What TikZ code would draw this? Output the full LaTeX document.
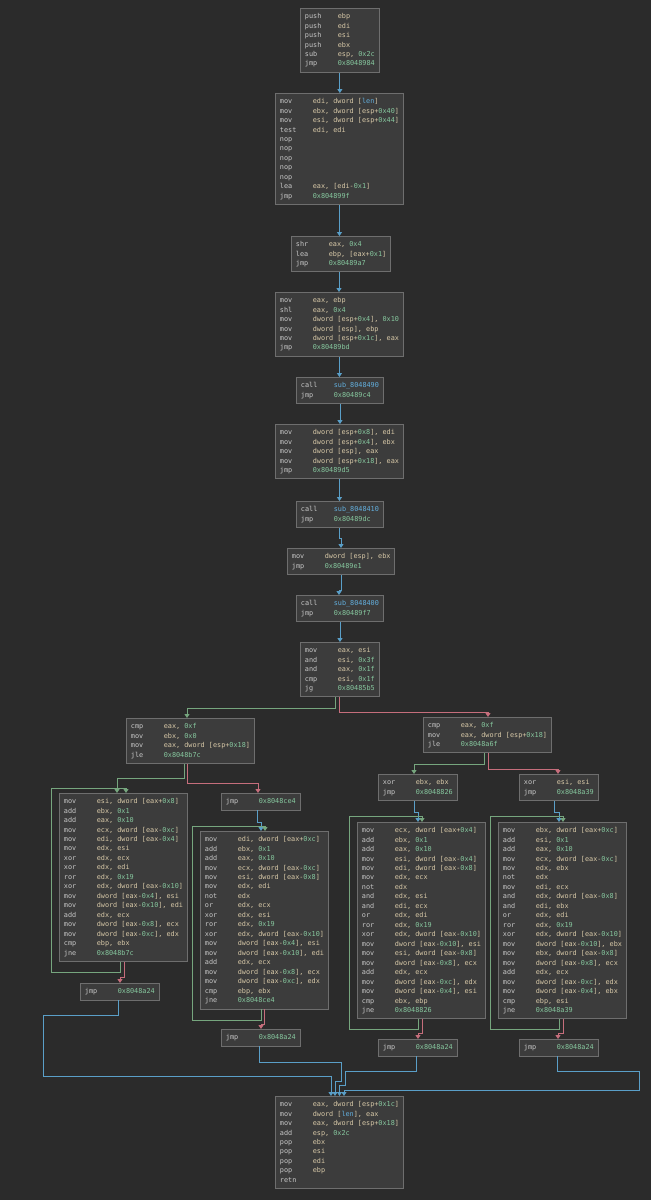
\documentclass[tikz,border=0pt]{standalone}
\usepackage{fontspec}
\usepackage{tikz}
\usetikzlibrary{arrows.meta}
\newfontfamily\asmmono{DejaVu Sans Mono}
\definecolor{bgcol}{HTML}{2B2B2B}
\definecolor{boxfill}{HTML}{3C3C3C}
\definecolor{boxline}{HTML}{6E6E6E}
\definecolor{mnemcol}{HTML}{C8C8C8}
\definecolor{regcol}{HTML}{D8C9A8}
\definecolor{hexcol}{HTML}{86C79E}
\definecolor{namecol}{HTML}{62AEDC}
\definecolor{jmpcol}{HTML}{5A9FC8}
\definecolor{truecol}{HTML}{76A67E}
\definecolor{falsecol}{HTML}{C66E7C}
\newlength{\asmcw}
\setlength{\asmcw}{2.336pt}
\newcommand{\asm}[2]{\strut\makebox[8\asmcw][l]{\color{mnemcol}#1}#2}
\newcommand{\asmhex}[1]{{\color{hexcol}#1}}
\newcommand{\asmsym}[1]{{\color{namecol}#1}}
\tikzset{
	asmblock/.style={draw=boxline, fill=boxfill, line width=0.55pt, anchor=north west,
			align=left, inner xsep=2.55pt, inner ysep=2pt, text=regcol,
			font=\asmmono\fontsize{3.88pt}{5.39pt}\selectfont}
}
\tikzset{
	jmpedge/.style={draw=jmpcol, line width=0.42pt, -{Triangle[length=2.2pt,width=2.8pt]}},
	trueedge/.style={draw=truecol, line width=0.42pt, -{Triangle[length=2.2pt,width=2.8pt]}},
	falseedge/.style={draw=falsecol, line width=0.42pt, -{Triangle[length=2.2pt,width=2.8pt]}}
}

\begin{document}
\begin{tikzpicture}[x=0.02cm, y=-0.02cm]

	\fill[bgcol] (0,0) rectangle (651,1200);

	\begin{scope}
		\node[asmblock] (b1) at (300,8) {\asm{push}{ebp}\\
			\asm{push}{edi}\\
			\asm{push}{esi}\\
			\asm{push}{ebx}\\
			\asm{sub}{esp, \asmhex{0x2c}}\\
			\asm{jmp}{\asmhex{0x8048984}}};
		\node[asmblock] (b2) at (275,93) {\asm{mov}{edi, dword [\asmsym{len}]}\\
			\asm{mov}{ebx, dword [esp+\asmhex{0x40}]}\\
			\asm{mov}{esi, dword [esp+\asmhex{0x44}]}\\
			\asm{test}{edi, edi}\\
			\asm{nop}{}\\
			\asm{nop}{}\\
			\asm{nop}{}\\
			\asm{nop}{}\\
			\asm{nop}{}\\
			\asm{lea}{eax, [edi-\asmhex{0x1}]}\\
			\asm{jmp}{\asmhex{0x804899f}}};
		\node[asmblock] (b3) at (291,236) {\asm{shr}{eax, \asmhex{0x4}}\\
			\asm{lea}{ebp, [eax+\asmhex{0x1}]}\\
			\asm{jmp}{\asmhex{0x80489a7}}};
		\node[asmblock] (b4) at (275,292) {\asm{mov}{eax, ebp}\\
			\asm{shl}{eax, \asmhex{0x4}}\\
			\asm{mov}{dword [esp+\asmhex{0x4}], \asmhex{0x10}}\\
			\asm{mov}{dword [esp], ebp}\\
			\asm{mov}{dword [esp+\asmhex{0x1c}], eax}\\
			\asm{jmp}{\asmhex{0x80489bd}}};
		\node[asmblock] (b5) at (296,377) {\asm{call}{\asmsym{sub\_8048490}}\\
			\asm{jmp}{\asmhex{0x80489c4}}};
		\node[asmblock] (b6) at (275,424) {\asm{mov}{dword [esp+\asmhex{0x8}], edi}\\
			\asm{mov}{dword [esp+\asmhex{0x4}], ebx}\\
			\asm{mov}{dword [esp], eax}\\
			\asm{mov}{dword [esp+\asmhex{0x18}], eax}\\
			\asm{jmp}{\asmhex{0x80489d5}}};
		\node[asmblock] (b7) at (296,501) {\asm{call}{\asmsym{sub\_8048410}}\\
			\asm{jmp}{\asmhex{0x80489dc}}};
		\node[asmblock] (b8) at (287,548) {\asm{mov}{dword [esp], ebx}\\
			\asm{jmp}{\asmhex{0x80489e1}}};
		\node[asmblock] (b9) at (296,595) {\asm{call}{\asmsym{sub\_8048400}}\\
			\asm{jmp}{\asmhex{0x80489f7}}};
		\node[asmblock] (b10) at (300,642) {\asm{mov}{eax, esi}\\
			\asm{and}{esi, \asmhex{0x3f}}\\
			\asm{and}{eax, \asmhex{0x1f}}\\
			\asm{cmp}{esi, \asmhex{0x1f}}\\
			\asm{jg}{\asmhex{0x80485b5}}};
	\end{scope}

	\begin{scope}
		\node[asmblock] (b11) at (126,718) {\asm{cmp}{eax, \asmhex{0xf}}\\
			\asm{mov}{ebx, \asmhex{0x0}}\\
			\asm{mov}{eax, dword [esp+\asmhex{0x18}]}\\
			\asm{jle}{\asmhex{0x8048b7c}}};
		\node[asmblock] (b12) at (59,793) {\asm{mov}{esi, dword [eax+\asmhex{0x8}]}\\
			\asm{add}{ebx, \asmhex{0x1}}\\
			\asm{add}{eax, \asmhex{0x10}}\\
			\asm{mov}{ecx, dword [eax-\asmhex{0xc}]}\\
			\asm{mov}{edi, dword [eax-\asmhex{0x4}]}\\
			\asm{mov}{edx, esi}\\
			\asm{xor}{edx, ecx}\\
			\asm{xor}{edx, edi}\\
			\asm{ror}{edx, \asmhex{0x19}}\\
			\asm{xor}{edx, dword [eax-\asmhex{0x10}]}\\
			\asm{mov}{dword [eax-\asmhex{0x4}], esi}\\
			\asm{mov}{dword [eax-\asmhex{0x10}], edi}\\
			\asm{add}{edx, ecx}\\
			\asm{mov}{dword [eax-\asmhex{0x8}], ecx}\\
			\asm{mov}{dword [eax-\asmhex{0xc}], edx}\\
			\asm{cmp}{ebp, ebx}\\
			\asm{jne}{\asmhex{0x8048b7c}}};
		\node[asmblock] (b13) at (221,793) {\asm{jmp}{\asmhex{0x8048ce4}}};
		\node[asmblock] (b14) at (200,831) {\asm{mov}{edi, dword [eax+\asmhex{0xc}]}\\
			\asm{add}{ebx, \asmhex{0x1}}\\
			\asm{add}{eax, \asmhex{0x10}}\\
			\asm{mov}{ecx, dword [eax-\asmhex{0xc}]}\\
			\asm{mov}{esi, dword [eax-\asmhex{0x8}]}\\
			\asm{mov}{edx, edi}\\
			\asm{not}{edx}\\
			\asm{or}{edx, ecx}\\
			\asm{xor}{edx, esi}\\
			\asm{ror}{edx, \asmhex{0x19}}\\
			\asm{xor}{edx, dword [eax-\asmhex{0x10}]}\\
			\asm{mov}{dword [eax-\asmhex{0x4}], esi}\\
			\asm{mov}{dword [eax-\asmhex{0x10}], edi}\\
			\asm{add}{edx, ecx}\\
			\asm{mov}{dword [eax-\asmhex{0x8}], ecx}\\
			\asm{mov}{dword [eax-\asmhex{0xc}], edx}\\
			\asm{cmp}{ebp, ebx}\\
			\asm{jne}{\asmhex{0x8048ce4}}};
		\node[asmblock] (b15) at (80,983) {\asm{jmp}{\asmhex{0x8048a24}}};
		\node[asmblock] (b16) at (221,1029) {\asm{jmp}{\asmhex{0x8048a24}}};
	\end{scope}

	\begin{scope}
		\node[asmblock] (b17) at (423,717) {\asm{cmp}{eax, \asmhex{0xf}}\\
			\asm{mov}{eax, dword [esp+\asmhex{0x18}]}\\
			\asm{jle}{\asmhex{0x8048a6f}}};
		\node[asmblock] (b18) at (378,774) {\asm{xor}{ebx, ebx}\\
			\asm{jmp}{\asmhex{0x8048826}}};
		\node[asmblock] (b19) at (519,774) {\asm{xor}{esi, esi}\\
			\asm{jmp}{\asmhex{0x8048a39}}};
		\node[asmblock] (b20) at (357,822) {\asm{mov}{ecx, dword [eax+\asmhex{0x4}]}\\
			\asm{add}{ebx, \asmhex{0x1}}\\
			\asm{add}{eax, \asmhex{0x10}}\\
			\asm{mov}{esi, dword [eax-\asmhex{0x4}]}\\
			\asm{mov}{edi, dword [eax-\asmhex{0x8}]}\\
			\asm{mov}{edx, ecx}\\
			\asm{not}{edx}\\
			\asm{and}{edx, esi}\\
			\asm{and}{edi, ecx}\\
			\asm{or}{edx, edi}\\
			\asm{ror}{edx, \asmhex{0x19}}\\
			\asm{xor}{edx, dword [eax-\asmhex{0x10}]}\\
			\asm{mov}{dword [eax-\asmhex{0x10}], esi}\\
			\asm{mov}{esi, dword [eax-\asmhex{0x8}]}\\
			\asm{mov}{dword [eax-\asmhex{0x8}], ecx}\\
			\asm{add}{edx, ecx}\\
			\asm{mov}{dword [eax-\asmhex{0xc}], edx}\\
			\asm{mov}{dword [eax-\asmhex{0x4}], esi}\\
			\asm{cmp}{ebx, ebp}\\
			\asm{jne}{\asmhex{0x8048826}}};
		\node[asmblock] (b21) at (498,822) {\asm{mov}{ebx, dword [eax+\asmhex{0xc}]}\\
			\asm{add}{esi, \asmhex{0x1}}\\
			\asm{add}{eax, \asmhex{0x10}}\\
			\asm{mov}{ecx, dword [eax-\asmhex{0xc}]}\\
			\asm{mov}{edx, ebx}\\
			\asm{not}{edx}\\
			\asm{mov}{edi, ecx}\\
			\asm{and}{edx, dword [eax-\asmhex{0x8}]}\\
			\asm{and}{edi, ebx}\\
			\asm{or}{edx, edi}\\
			\asm{ror}{edx, \asmhex{0x19}}\\
			\asm{xor}{edx, dword [eax-\asmhex{0x10}]}\\
			\asm{mov}{dword [eax-\asmhex{0x10}], ebx}\\
			\asm{mov}{ebx, dword [eax-\asmhex{0x8}]}\\
			\asm{mov}{dword [eax-\asmhex{0x8}], ecx}\\
			\asm{add}{edx, ecx}\\
			\asm{mov}{dword [eax-\asmhex{0xc}], edx}\\
			\asm{mov}{dword [eax-\asmhex{0x4}], ebx}\\
			\asm{cmp}{ebp, esi}\\
			\asm{jne}{\asmhex{0x8048a39}}};
		\node[asmblock] (b22) at (378,1039) {\asm{jmp}{\asmhex{0x8048a24}}};
		\node[asmblock] (b23) at (519,1039) {\asm{jmp}{\asmhex{0x8048a24}}};
	\end{scope}

	\node[asmblock] (b24) at (275,1096) {\asm{mov}{eax, dword [esp+\asmhex{0x1c}]}\\
		\asm{mov}{dword [\asmsym{len}], eax}\\
		\asm{mov}{eax, dword [esp+\asmhex{0x18}]}\\
		\asm{add}{esp, \asmhex{0x2c}}\\
		\asm{pop}{ebx}\\
		\asm{pop}{esi}\\
		\asm{pop}{edi}\\
		\asm{pop}{ebp}\\
		\asm{retn}{}};

	\begin{scope}
		\draw[jmpedge] (b1) -- (b1 |- b2.north);
		\draw[jmpedge] (b2) -- (b2 |- b3.north);
		\draw[jmpedge] (b3.south -| 339,0) -- (b4.north -| 339,0);
		\draw[jmpedge] (b4) -- (b4 |- b5.north);
		\draw[jmpedge] (b5) -- (b5 |- b6.north);
		\draw[jmpedge] (b6) -- (b6 |- b7.north);
		\draw[jmpedge] (b7.south -| 339,0) -- (339,538) -| (b8.north -| 341,0);
		\draw[jmpedge] (b8.south -| 341,0) -- (341,590) -| (b9.north -| 339,0);
		\draw[jmpedge] (b9) -- (b9 |- b10.north);

		\draw[trueedge] (b10.south -| 335,0) -- (335,708) -| (b11.north -| 187,0);
		\draw[falseedge] (b10.south -| 339,0) -- (339,712) -| (b17.north -| 488,0);

		\draw[trueedge] (b11.south -| 184,0) -- (184,778) -| (b12.north -| 117,0);
		\draw[falseedge] (b11.south -| 187,0) -- (187,783) -| (b13.north -| 258,0);
		\draw[trueedge] (b12.south -| 120,0) -- (120,972) -| (51,788) -| (b12.north -| 126,0);
		\draw[falseedge] (b12.south -| 124,0) -- (124,977) -| (b15.north -| 120,0);
		\draw[jmpedge] (b13.south -| 257,0) -- (257,822) -| (b14.north -| 261,0);
		\draw[trueedge] (b14.south -| 261,0) -- (261,1020) -| (192,826) -| (b14.north -| 265,0);
		\draw[falseedge] (b14.south -| 264,0) -- (264,1024) -| (b16.north -| 261,0);

		\draw[trueedge] (b17.south -| 484,0) -- (484,764) -| (b18.north -| 414,0);
		\draw[falseedge] (b17.south -| 488,0) -- (488,769) -| (b19.north -| 558,0);
		\draw[jmpedge] (b18.south -| 414,0) -- (414,812) -| (b20.north -| 418,0);
		\draw[trueedge] (b20.south -| 418,0) -- (418,1029) -| (349,816) -| (b20.north -| 422,0);
		\draw[falseedge] (b20.south -| 422,0) -- (422,1033) -| (b22.north -| 418,0);
		\draw[jmpedge] (b19.south -| 554,0) -- (554,812) -| (b21.north -| 559,0);
		\draw[trueedge] (b21.south -| 559,0) -- (559,1029) -| (490,816) -| (b21.north -| 563,0);
		\draw[falseedge] (b21.south -| 563,0) -- (563,1033) -| (b23.north -| 558,0);

		\draw[jmpedge] (b15.south -| 118,0) -- (118,1015) -| (43,1076) -| (b24.north -| 331,0);
		\draw[jmpedge] (b16.south -| 259,0) -- (259,1062) -| (341,1081) -| (b24.north -| 335,0);
		\draw[jmpedge] (b22.south -| 416,0) -- (416,1071) -| (345,1085) -| (b24.north -| 339.5,0);
		\draw[jmpedge] (b23.south -| 557,0) -- (557,1071) -| (639,1090) -| (b24.north -| 344,0);
	\end{scope}

\end{tikzpicture}
\end{document}
